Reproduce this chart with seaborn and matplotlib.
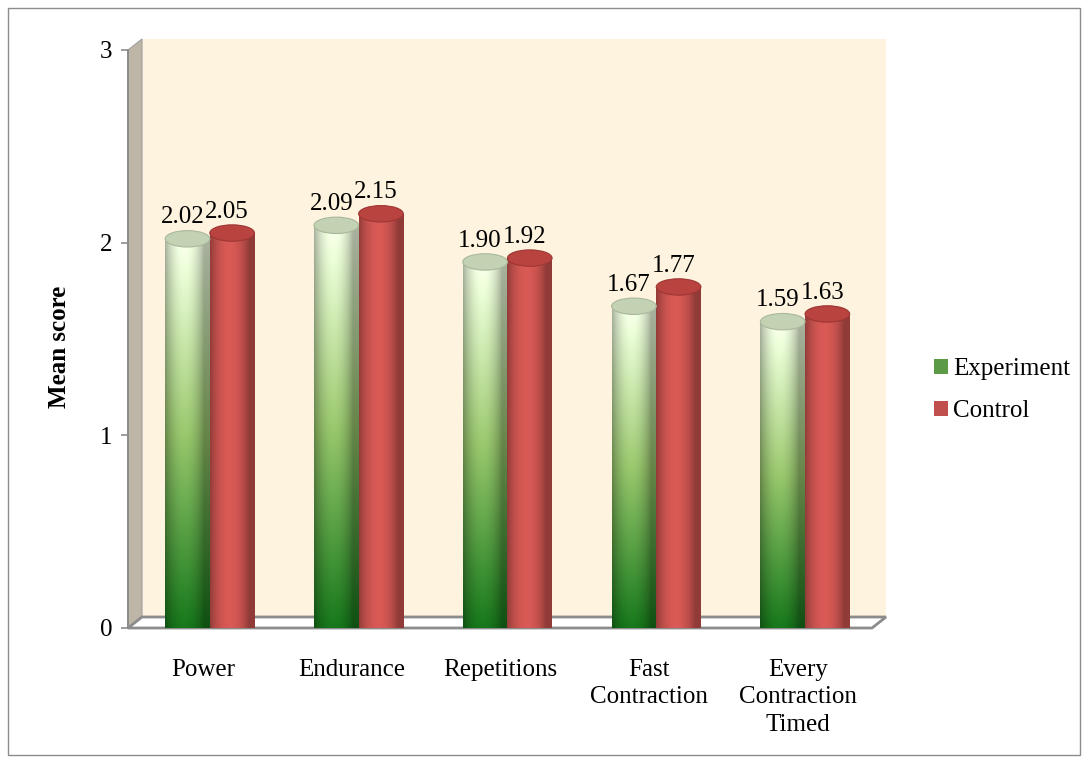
import numpy as np
import pandas as pd
import matplotlib
matplotlib.use("Agg")
import matplotlib.pyplot as plt
import matplotlib.transforms as mtransforms
import seaborn as sns
from matplotlib.patches import Rectangle, Polygon, Ellipse, Patch
from matplotlib.colors import to_rgb

# ---- data ----
categories = ["Power", "Endurance", "Repetitions", "Fast\nContraction",
              "Every\nContraction\nTimed"]
experiment = [2.02, 2.09, 1.90, 1.67, 1.59]
control = [2.05, 2.15, 1.92, 1.77, 1.63]
groups = ["Experiment", "Control"]
y_ticks = [0, 1, 2, 3]

df = pd.DataFrame({
    "category": categories * 2,
    "group": [groups[0]] * len(categories) + [groups[1]] * len(categories),
    "score": experiment + control,
})

sns.set_theme(style="white")
plt.rcParams["font.family"] = ["Liberation Serif", "DejaVu Serif"]
plt.rcParams["text.color"] = "black"
plt.rcParams["xtick.color"] = "black"
plt.rcParams["ytick.color"] = "black"
plt.rcParams["axes.labelcolor"] = "black"

FS = 18
W, H = 1088, 763
fig = plt.figure(figsize=(W / 100, H / 100), dpi=100)


def fx(x):
    return x / W


def fy(y):
    return 1 - y / H


# plot box in pixels: left spine at x=128, value 0 at y=628, value 3 at y=50
L, R, B, T = 128, 872, 628, 50
ax = fig.add_axes([fx(L), fy(B), fx(R) - fx(L), fy(T) - fy(B)])
ax.set_facecolor("none")

# 3D frame: back wall, side wall, floor
DX, DY = 14, 11
fig.add_artist(Rectangle((fx(L + DX), fy(B - DY)), fx(R + DX) - fx(L + DX),
                         fy(T - DY) - fy(B - DY), transform=fig.transFigure,
                         facecolor="#fdf3de", edgecolor="none", zorder=-3))
fig.add_artist(Polygon([(fx(L), fy(T)), (fx(L + DX), fy(T - DY)),
                        (fx(L + DX), fy(B - DY)), (fx(L), fy(B))], closed=True,
                       transform=fig.transFigure, facecolor="#bdb6a6",
                       edgecolor="#a0a0a0", lw=0.8, zorder=-2))
fig.add_artist(Polygon([(fx(L), fy(B)), (fx(L + DX), fy(B - DY)),
                        (fx(R + DX), fy(B - DY)), (fx(R), fy(B))], closed=True,
                       transform=fig.transFigure, facecolor="white",
                       edgecolor="#8c8c8c", lw=2.0, zorder=-2))
# outer chart border
fig.add_artist(Rectangle((fx(8), fy(755)), fx(1080) - fx(8), fy(8) - fy(755),
                         transform=fig.transFigure, facecolor="none",
                         edgecolor="#8c8c8c", lw=1.0, zorder=5))

palette = {"Experiment": "#4f8f3a", "Control": "#c0504d"}
sns.barplot(data=df, x="category", y="score", hue="group", order=categories,
            hue_order=groups, palette=palette, width=0.6, ax=ax,
            errorbar=None, legend=False, saturation=1)

XL = (-0.55, 4.45)
ax.set_ylim(0, 3)
ax.set_xlim(*XL)
ax.set_yticks(y_ticks)
ax.set_yticklabels([str(t) for t in y_ticks])
for s in ["top", "right", "bottom"]:
    ax.spines[s].set_visible(False)
ax.spines["left"].set_color("#8c8c8c")
ax.spines["left"].set_linewidth(1.4)
ax.tick_params(axis="y", which="major", direction="out", length=5, width=1.2,
               color="#8c8c8c", labelcolor="black", labelsize=FS, pad=6, left=True)
ax.tick_params(axis="x", length=0, labelsize=FS, pad=22, labelcolor="black")
shift = mtransforms.ScaledTranslation(-7 / 100, 0, fig.dpi_scale_trans)
for lab in ax.get_xticklabels():
    lab.set_linespacing(1.34)
    lab.set_transform(lab.get_transform() + shift)
ax.set_xlabel("")
ax.set_ylabel("Mean score", fontsize=FS, fontweight="bold")
ax.yaxis.set_label_coords((71 - L) / (R - L), (B - 347) / (B - T))

# cylinder shading images
nx, ny = 64, 128
u = np.linspace(0, 1, nx)
shade = 0.72 + 0.36 * np.sin(np.pi * np.clip(u * 1.15, 0, 1)) ** 0.8
shade = np.clip(shade, 0, 1.08)


def green_img():
    v = np.linspace(0, 1, ny)[:, None]  # 0 bottom, 1 top
    bot = np.array(to_rgb("#157019"))
    mid = np.array(to_rgb("#8fba66"))
    top = np.array(to_rgb("#eaf6dc"))
    t1 = np.clip(v / 0.5, 0, 1)[..., None]
    t2 = np.clip((v - 0.5) / 0.5, 0, 1)[..., None]
    col = bot * (1 - t1) + mid * t1
    col = col * (1 - t2) + top * t2
    col = np.broadcast_to(col, (ny, nx, 3)).copy()
    col *= shade[None, :, None]
    return np.clip(col, 0, 1)


def red_img():
    base = np.array(to_rgb("#c9534f"))
    col = np.broadcast_to(base, (ny, nx, 3)).copy()
    col *= shade[None, :, None]
    return np.clip(col, 0, 1)


imgs = {"Experiment": green_img(), "Control": red_img()}
tops = {"Experiment": ("#c3d2b3", "#a9b89a"), "Control": ("#b8433f", "#9e3633")}

bars = ax.patches[: 2 * len(categories)]
ell_h = 0.085
for i, bar in enumerate(bars):
    g = groups[i // len(categories)]
    x0, w, h = bar.get_x(), bar.get_width(), bar.get_height()
    im = ax.imshow(imgs[g], extent=[x0, x0 + w, 0, h], origin="lower",
                   aspect="auto", zorder=2, interpolation="bilinear")
    im.set_clip_path(bar)
    bar.set_facecolor("none")
    bar.set_edgecolor("none")
    fc, ec = tops[g]
    ax.add_patch(Ellipse((x0 + w / 2, h), w, ell_h, facecolor=fc, edgecolor=ec,
                         lw=0.8, zorder=3))
    ax.annotate(f"{h:.2f}", (x0 + w / 2, h + 0.08), xytext=(-5, 0),
                textcoords="offset pixels", ha="center", va="baseline",
                fontsize=FS, color="black", zorder=4)

ax.set_xlim(*XL)
ax.set_ylim(0, 3)

handles = [Patch(facecolor="#5c9a46", edgecolor="none"),
           Patch(facecolor="#c0504d", edgecolor="none")]
fig.legend(handles, groups, loc="center left", bbox_to_anchor=(fx(934), fy(390)),
           frameon=False, fontsize=FS, handlelength=0.55, handleheight=0.55,
           handletextpad=0.2, labelspacing=0.8, borderaxespad=0, borderpad=0)

fig.savefig("out.png", dpi=100)
